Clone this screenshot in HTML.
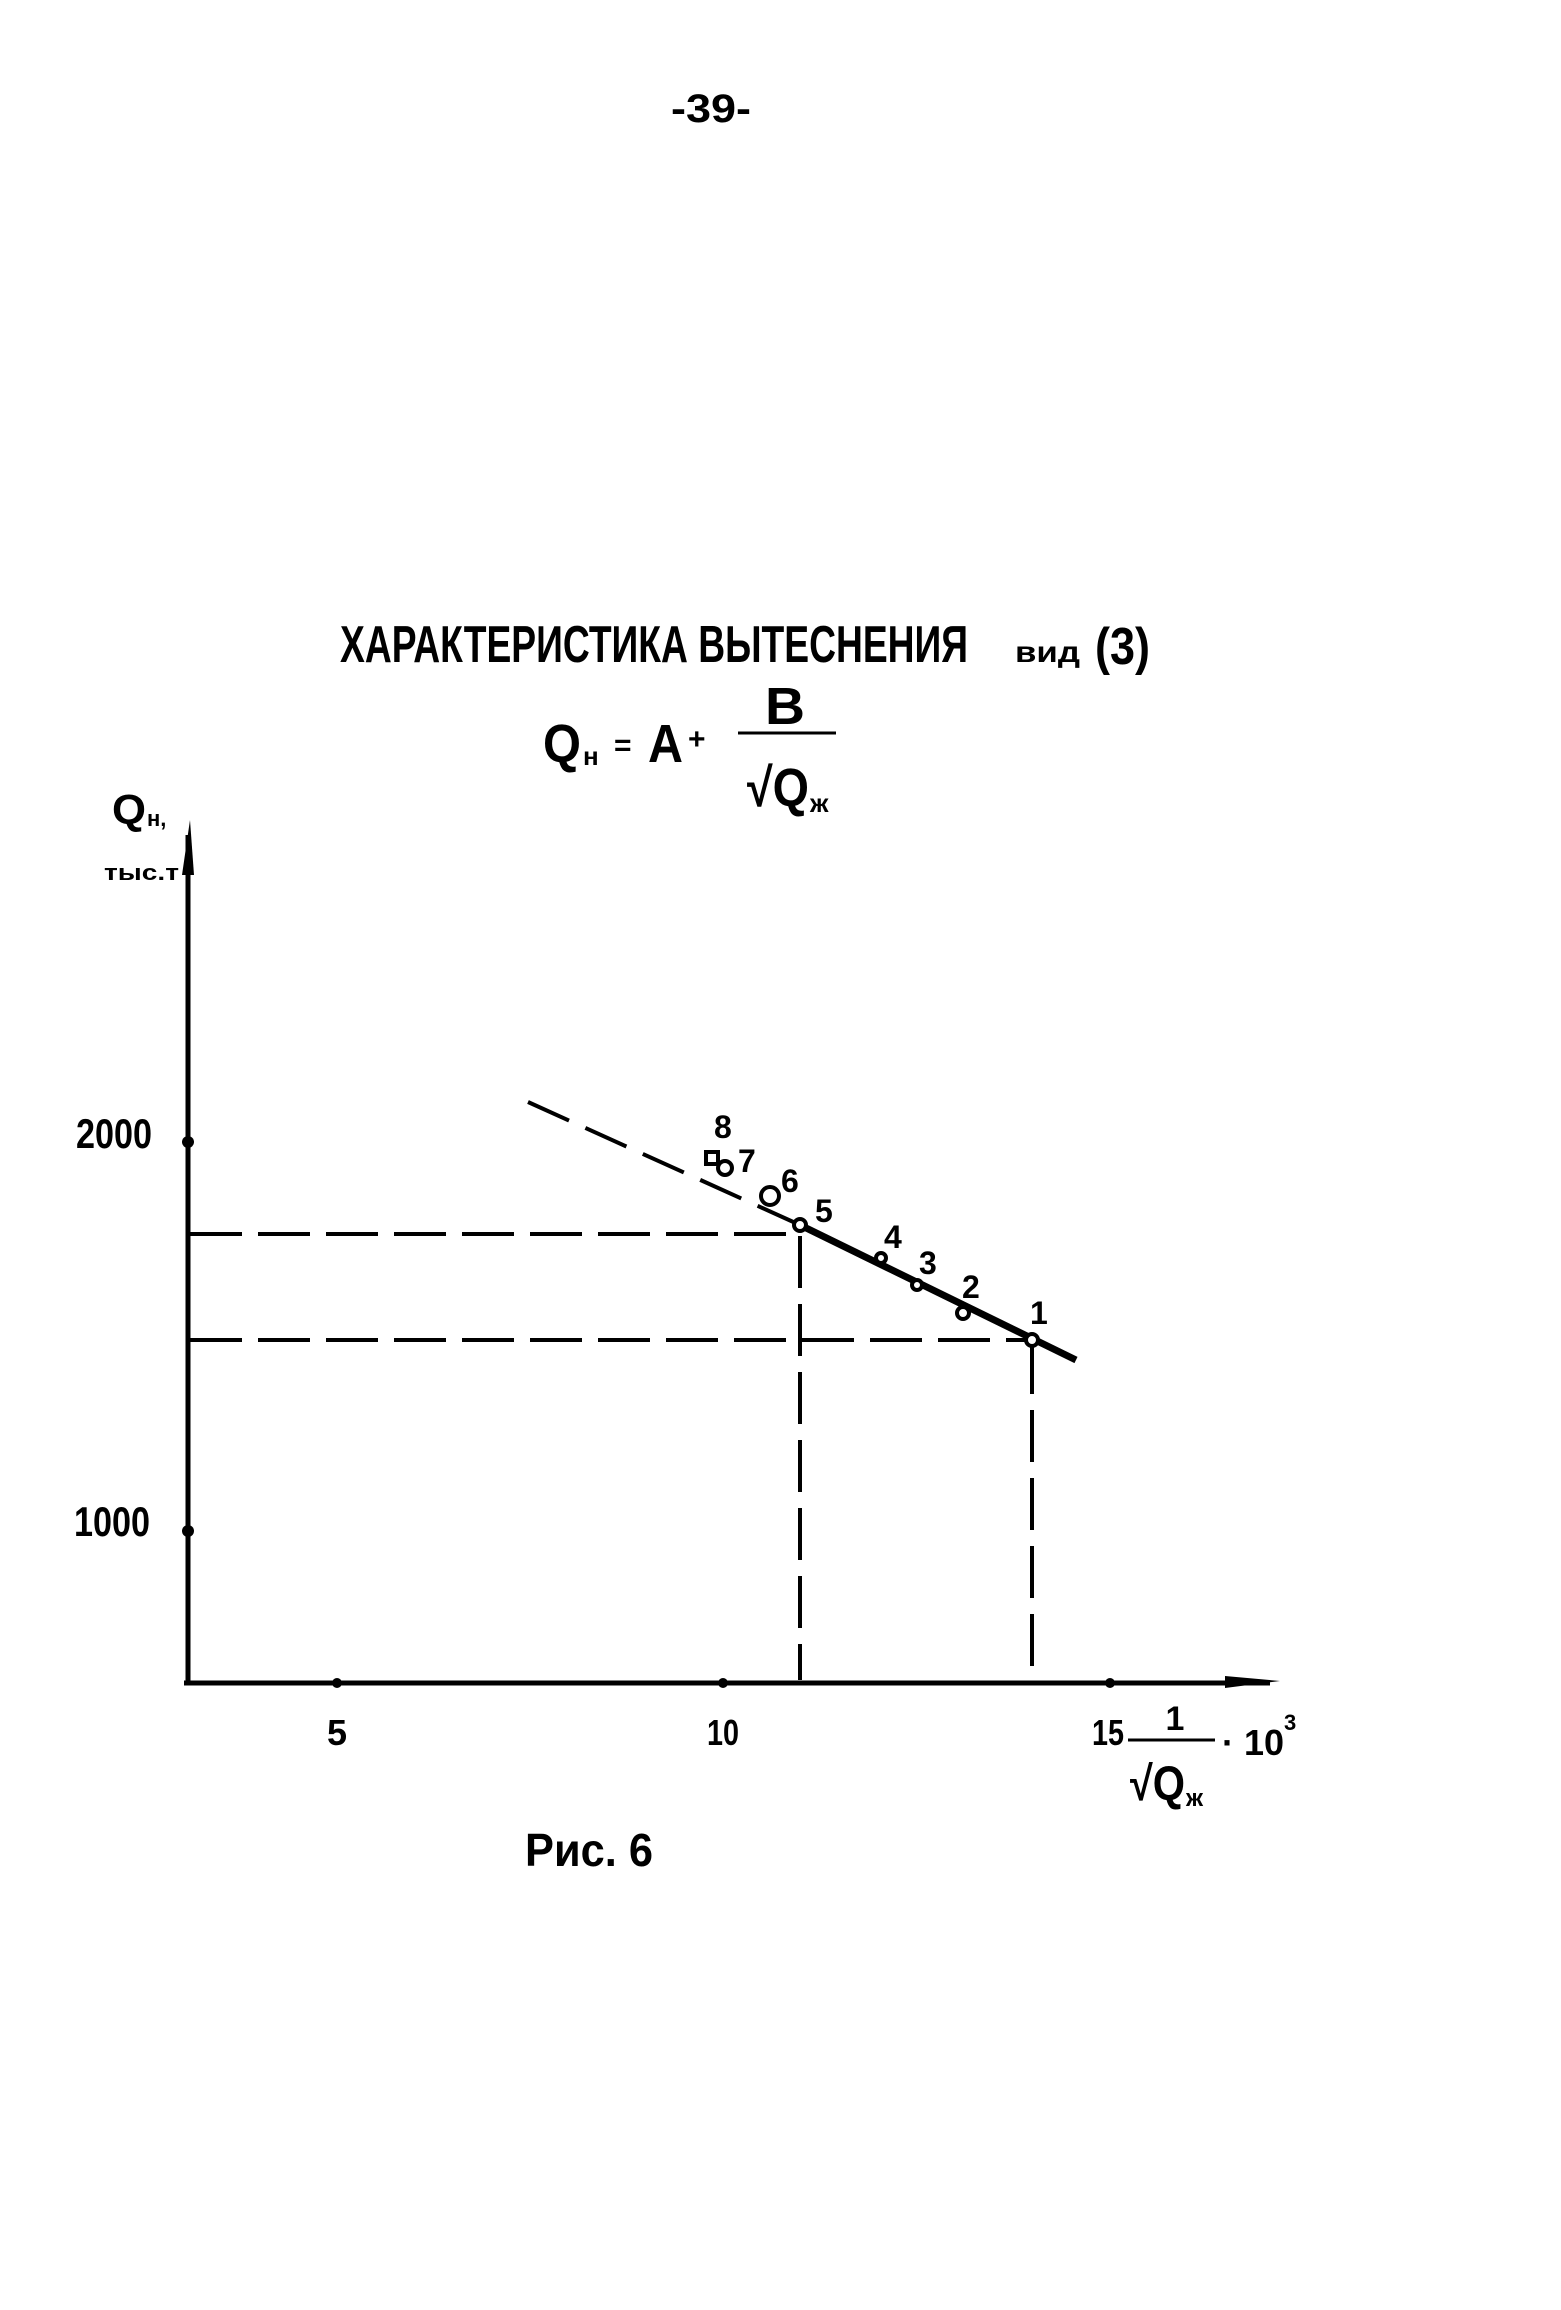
<!DOCTYPE html>
<html><head><meta charset="utf-8"><style>
html,body{margin:0;padding:0;background:#fff}
svg{display:block}
text{font-family:"Liberation Sans Narrow","Liberation Sans",sans-serif;font-weight:bold;fill:#000}
</style></head><body>
<svg width="1561" height="2310" viewBox="0 0 1561 2310" xmlns="http://www.w3.org/2000/svg">
<text x="711" y="122" font-size="40" text-anchor="middle" textLength="80" lengthAdjust="spacingAndGlyphs">-39-</text>
<text x="340" y="662" font-size="52" textLength="628" lengthAdjust="spacingAndGlyphs">ХАРАКТЕРИСТИКА  ВЫТЕСНЕНИЯ</text>
<text x="1015" y="662" font-size="30" textLength="65" lengthAdjust="spacingAndGlyphs">вид</text>
<text x="1095" y="664" font-size="52" textLength="55" lengthAdjust="spacingAndGlyphs">(3)</text>
<text x="543" y="762" font-size="54" textLength="38" lengthAdjust="spacingAndGlyphs">Q</text><text x="583" y="765" font-size="26">н</text>
<text x="614" y="755" font-size="30">=</text>
<text x="648" y="762" font-size="54" textLength="35" lengthAdjust="spacingAndGlyphs">А</text><text x="688" y="749" font-size="30">+</text>
<text x="785" y="724" font-size="52" text-anchor="middle" textLength="40" lengthAdjust="spacingAndGlyphs">В</text>
<line x1="738" y1="733" x2="836" y2="733" stroke="#000" stroke-width="3"/>
<text x="747" y="806" font-size="54" textLength="62" lengthAdjust="spacingAndGlyphs">√Q</text><text x="810" y="812" font-size="26">ж</text>
<text x="112" y="824" font-size="42" textLength="34" lengthAdjust="spacingAndGlyphs">Q</text><text x="147" y="826" font-size="22">н,</text>
<text x="104" y="880" font-size="22" textLength="75" lengthAdjust="spacingAndGlyphs">тыс.т</text>
<line x1="188" y1="1683" x2="188" y2="835" stroke="#000" stroke-width="5"/>
<polygon points="190,820 182,875 194,875" fill="#000"/>
<line x1="184" y1="1683" x2="1270" y2="1683" stroke="#000" stroke-width="5"/>
<polygon points="1280,1681 1225,1676 1225,1688" fill="#000"/>
<g fill="#000"><circle cx="188" cy="1142" r="6"/><circle cx="188" cy="1531" r="6"/>
<circle cx="337" cy="1683" r="5"/><circle cx="723" cy="1683" r="5"/><circle cx="1110" cy="1683" r="5"/></g>
<text x="76" y="1148" font-size="42" textLength="76" lengthAdjust="spacingAndGlyphs">2000</text>
<text x="74" y="1536" font-size="42" textLength="76" lengthAdjust="spacingAndGlyphs">1000</text>
<text x="337" y="1745" font-size="36" text-anchor="middle">5</text>
<text x="723" y="1745" font-size="36" text-anchor="middle" textLength="32" lengthAdjust="spacingAndGlyphs">10</text>
<text x="1108" y="1745" font-size="36" text-anchor="middle" textLength="32" lengthAdjust="spacingAndGlyphs">15</text>
<text x="1175" y="1730" font-size="34" text-anchor="middle">1</text>
<line x1="1128" y1="1740" x2="1215" y2="1740" stroke="#000" stroke-width="3"/>
<text x="1130" y="1800" font-size="48" textLength="55" lengthAdjust="spacingAndGlyphs">√Q</text><text x="1186" y="1806" font-size="24">ж</text>
<text x="1222" y="1755" font-size="36">· 10</text><text x="1284" y="1730" font-size="22">3</text>
<text x="525" y="1866" font-size="46" textLength="128" lengthAdjust="spacingAndGlyphs">Рис. 6</text>
<g stroke="#000" stroke-width="4" stroke-dasharray="52,16" fill="none">
<line x1="190" y1="1234" x2="800" y2="1234"/>
<line x1="190" y1="1340" x2="1032" y2="1340"/>
<line x1="800" y1="1236" x2="800" y2="1680"/>
<line x1="1032" y1="1342" x2="1032" y2="1680"/>
<line x1="528" y1="1102" x2="800" y2="1225" stroke-dasharray="45,18"/>
</g>
<line x1="800" y1="1225" x2="1076" y2="1360" stroke="#000" stroke-width="7"/>
<g fill="#fff" stroke="#000" stroke-width="4">
<rect x="706" y="1152" width="12" height="12"/>
<circle cx="725" cy="1168" r="7"/>
<circle cx="770" cy="1196" r="9"/>
<circle cx="800" cy="1225" r="6"/>
<circle cx="881" cy="1258" r="5"/>
<circle cx="917" cy="1285" r="5"/>
<circle cx="963" cy="1313" r="6"/>
<circle cx="1032" cy="1340" r="6"/>
</g>
<g font-size="32">
<text x="714" y="1138">8</text><text x="738" y="1172">7</text><text x="781" y="1192">6</text>
<text x="815" y="1222">5</text><text x="884" y="1248">4</text><text x="919" y="1274">3</text>
<text x="962" y="1298">2</text><text x="1030" y="1324">1</text>
</g>
</svg>
</body></html>
